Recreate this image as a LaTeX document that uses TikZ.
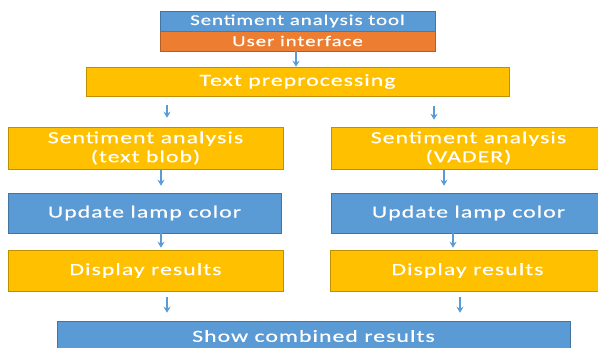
\documentclass[tikz,border=0pt]{standalone}
\usepackage{fontspec}
\setmainfont[FakeStretch=1.4,LetterSpace=6,FakeBold=0.4]{Carlito}
\usetikzlibrary{arrows.meta}
\definecolor{boxblue}{HTML}{5B9BD5}
\definecolor{boxorange}{HTML}{ED7D31}
\definecolor{boxgold}{HTML}{FFC000}
\tikzset{
  box/.style={draw=#1!75!black, line width=0.5pt, fill=#1, text=white, inner sep=0pt,
    align=center, font=\fontsize{17}{19}\selectfont},
  topbox/.style={box=#1, minimum width=275, minimum height=20, font=\fontsize{15}{17}\selectfont},
  flowarrow/.style={draw=boxblue, line width=2pt, -{Stealth[length=6pt,width=7pt]}}
}
\begin{document}
\begin{tikzpicture}[x=1pt,y=-1pt]
  \useasboundingbox (0,0) rectangle (598,348);
  % top blocks
  \node[topbox=boxblue] (tool) at (297.5,21) {Sentiment analysis tool};
  \node[topbox=boxorange] (ui) at (297.5,41) {User interface};
  \node[box=boxgold, minimum width=423, minimum height=29] (prep) at (297.5,81.5) {Text preprocessing};
  % left branch
  \node[box=boxgold, minimum width=275, minimum height=42] (sablob) at (145.5,148) {Sentiment analysis\\(text blob)};
  \node[box=boxblue, minimum width=273, minimum height=40] (lampblob) at (144.5,213) {Update lamp color};
  \node[box=boxgold, minimum width=275, minimum height=41] (dispblob) at (145.5,270.5) {Display results};
  % right branch
  \node[box=boxgold, minimum width=275, minimum height=42] (savader) at (468.5,148) {Sentiment analysis\\(VADER)};
  \node[box=boxblue, minimum width=275, minimum height=40] (lampvader) at (468.5,213) {Update lamp color};
  \node[box=boxgold, minimum width=275, minimum height=41] (dispvader) at (467.5,270.5) {Display results};
  % bottom
  \node[box=boxblue, minimum width=513, minimum height=30] (comb) at (313.5,336) {Show combined results};
  % arrows
  \draw[flowarrow] (ui.south -| 296,0) -- (prep.north -| 296,0);
  \foreach \a/\b/\x/\s/\e in {prep/sablob/167/9/9, prep/savader/434/10/7, sablob/lampblob/161/1/7,
      savader/lampvader/444/1/7, lampblob/dispblob/161/0/2, lampvader/dispvader/453/0/2,
      dispblob/comb/167/6/8, dispvader/comb/460/6/8} {
    \draw[flowarrow, shorten <=\s, shorten >=\e] (\a.south -| \x,0) -- (\b.north -| \x,0);
  }
\end{tikzpicture}
\end{document}
